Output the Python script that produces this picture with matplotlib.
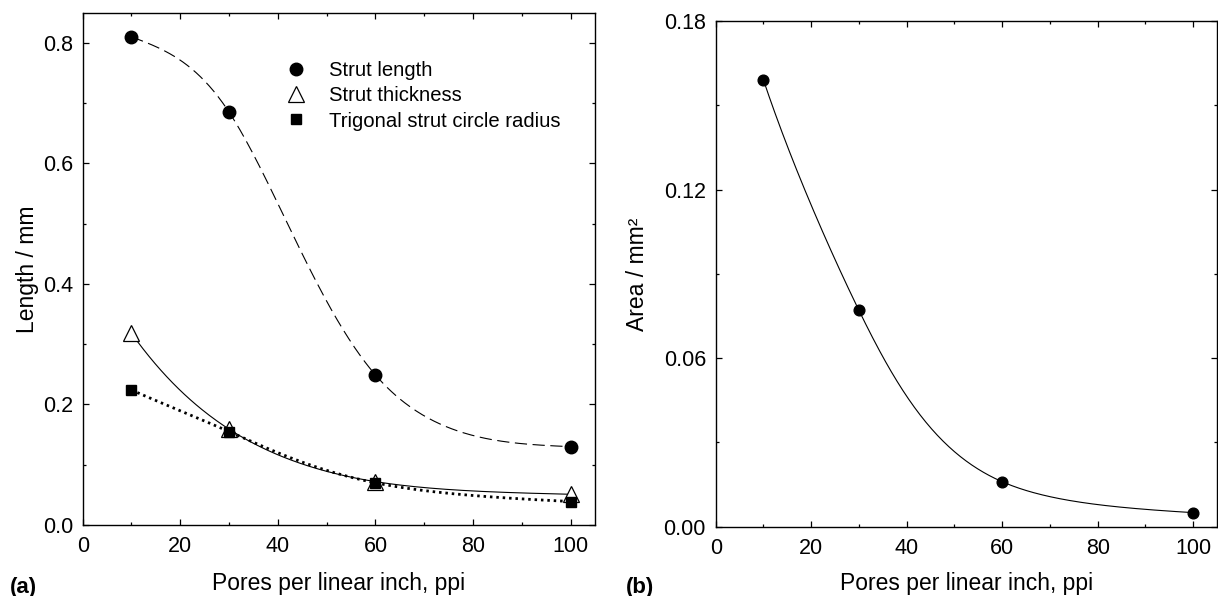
import numpy as np
import matplotlib
matplotlib.use("Agg")
import matplotlib.pyplot as plt
from matplotlib.ticker import MultipleLocator, FormatStrFormatter

plt.rcParams["font.family"] = ["Liberation Sans", "DejaVu Sans"]

# data
ppi = [10, 30, 60, 100]
strut_length = [0.810, 0.685, 0.249, 0.130]
strut_thickness = [0.318, 0.159, 0.072, 0.051]
circle_radius = [0.224, 0.155, 0.070, 0.039]
strut_area = [0.159, 0.077, 0.016, 0.005]


def smooth_curve(x, y, power=0.0, n=300):
    # natural cubic spline through a transformed y (log when power=0),
    # so the line stays smooth and does not dip below the last point
    x = np.asarray(x, float)
    y = np.asarray(y, float)
    y = np.log(y) if power == 0 else y ** power
    k = len(x)
    h = np.diff(x)
    A = np.zeros((k, k))
    r = np.zeros(k)
    A[0, 0] = 1
    A[-1, -1] = 1
    for i in range(1, k - 1):
        A[i, i - 1] = h[i - 1]
        A[i, i] = 2 * (h[i - 1] + h[i])
        A[i, i + 1] = h[i]
        r[i] = 3 * ((y[i + 1] - y[i]) / h[i] - (y[i] - y[i - 1]) / h[i - 1])
    c = np.linalg.solve(A, r)
    b = np.diff(y) / h - h * (c[1:] + 2 * c[:-1]) / 3
    d = np.diff(c) / (3 * h)
    xs = np.linspace(x[0], x[-1], n)
    idx = np.clip(np.searchsorted(x, xs) - 1, 0, k - 2)
    t = xs - x[idx]
    ys = y[idx] + b[idx] * t + c[idx] * t ** 2 + d[idx] * t ** 3
    ys = np.exp(ys) if power == 0 else ys ** (1 / power)
    return xs, ys


def style_axes(ax):
    for s in ax.spines.values():
        s.set_linewidth(1.0)
    ax.tick_params(which="both", direction="in", top=True, right=True,
                   labelsize=15.5, width=0.9)
    ax.tick_params(which="major", length=4.5)
    ax.tick_params(which="minor", length=2.5)
    ax.tick_params(axis="x", pad=8)
    ax.tick_params(axis="y", pad=7)


fig = plt.figure(figsize=(12.18, 5.96), dpi=100)

# (a) lengths
ax1 = fig.add_axes([0.0679, 0.1191, 0.4206, 0.8596])
xs, ys = smooth_curve(ppi, strut_length, power=0.5)
ax1.plot(xs, ys, color="black", lw=0.8, linestyle=(0, (11, 5)))
xs, ys = smooth_curve(ppi, strut_thickness)
ax1.plot(xs, ys, color="black", lw=0.8)
xs, ys = smooth_curve(ppi, circle_radius)
ax1.plot(xs, ys, color="black", lw=2.0, linestyle=(0, (0.9, 1.4)))

ax1.plot(ppi, strut_length, "o", color="black", ms=9, zorder=3,
         label="Strut length")
ax1.plot(ppi, strut_thickness, "^", mfc="white", mec="black", mew=0.9,
         ms=11, zorder=3, label="Strut thickness")
ax1.plot(ppi, circle_radius, "s", color="black", ms=6.5, zorder=4,
         label="Trigonal strut circle radius")

ax1.set_xlim(0, 105)
ax1.set_ylim(0, 0.85)
ax1.xaxis.set_major_locator(MultipleLocator(20))
ax1.xaxis.set_minor_locator(MultipleLocator(10))
ax1.yaxis.set_major_locator(MultipleLocator(0.2))
ax1.yaxis.set_minor_locator(MultipleLocator(0.1))
ax1.yaxis.set_major_formatter(FormatStrFormatter("%.1f"))
style_axes(ax1)
ax1.set_xlabel("Pores per linear inch, ppi", fontsize=16.5)
ax1.xaxis.set_label_coords(0.5, -0.092)
ax1.set_ylabel("Length / mm", fontsize=16.5)
ax1.yaxis.set_label_coords(-0.085, 0.5)

ax1.legend(loc="upper left", bbox_to_anchor=(0.392, 0.905), frameon=False,
           fontsize=14.6, handlelength=1.2, handletextpad=1.05,
           labelspacing=0.3, borderpad=0, borderaxespad=0)

# (b) area
ax2 = fig.add_axes([0.5876, 0.1163, 0.4116, 0.8485])
xs, ys = smooth_curve(ppi, strut_area)
ax2.plot(xs, ys, color="black", lw=0.8)
ax2.plot(ppi, strut_area, "o", color="black", ms=7.7, zorder=3)
ax2.set_xlim(0, 105)
ax2.set_ylim(0, 0.18)
ax2.xaxis.set_major_locator(MultipleLocator(20))
ax2.xaxis.set_minor_locator(MultipleLocator(10))
ax2.yaxis.set_major_locator(MultipleLocator(0.06))
ax2.yaxis.set_minor_locator(MultipleLocator(0.03))
ax2.yaxis.set_major_formatter(FormatStrFormatter("%.2f"))
style_axes(ax2)
ax2.set_xlabel("Pores per linear inch, ppi", fontsize=16.5)
ax2.xaxis.set_label_coords(0.5, -0.090)
ax2.set_ylabel("Area / mm²", fontsize=16.5)
ax2.yaxis.set_label_coords(-0.133, 0.5)

fig.text(0.0082, 0.0151, "(a)", fontsize=16, fontweight="bold", va="center")
fig.text(0.5137, 0.0151, "(b)", fontsize=16, fontweight="bold", va="center")

fig.savefig("out.png", dpi=100)
